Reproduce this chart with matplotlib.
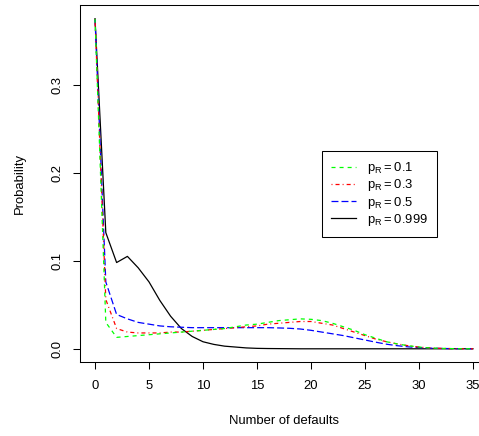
import matplotlib
matplotlib.use("Agg")
import matplotlib.pyplot as plt
import numpy as np

plt.rcParams['font.family'] = ['Liberation Sans', 'DejaVu Sans']
plt.rcParams['mathtext.fontset'] = 'custom'
plt.rcParams['mathtext.rm'] = 'Liberation Sans'
plt.rcParams['mathtext.default'] = 'regular'
plt.rcParams['lines.scale_dashes'] = False

# number of defaults 0..35
defaults = np.arange(36)

# p_R = 0.1
prob_01 = [0.375, 0.030, 0.013, 0.014, 0.015, 0.016, 0.017, 0.018, 0.019, 0.020,
           0.021, 0.022, 0.023, 0.025, 0.027, 0.028, 0.030, 0.032, 0.033, 0.034,
           0.0335, 0.032, 0.029, 0.025, 0.021, 0.016, 0.012, 0.008, 0.0055, 0.0035,
           0.002, 0.001, 0.0005, 0.0002, 0.0001, 0.0]
# p_R = 0.3
prob_03 = [0.375, 0.056, 0.023, 0.019, 0.018, 0.018, 0.018, 0.019, 0.019, 0.020,
           0.021, 0.022, 0.023, 0.024, 0.025, 0.026, 0.028, 0.029, 0.030, 0.031,
           0.031, 0.029, 0.027, 0.023, 0.019, 0.015, 0.011, 0.008, 0.0055, 0.0035,
           0.002, 0.001, 0.0005, 0.0002, 0.0001, 0.0]
# p_R = 0.5
prob_05 = [0.375, 0.076, 0.039, 0.034, 0.030, 0.028, 0.026, 0.025, 0.0245, 0.024,
           0.024, 0.024, 0.024, 0.024, 0.024, 0.024, 0.024, 0.0237, 0.0233, 0.0225,
           0.021, 0.019, 0.017, 0.015, 0.0125, 0.010, 0.0075, 0.0052, 0.0035, 0.0022,
           0.0014, 0.0008, 0.0004, 0.0002, 0.0001, 0.0]
# p_R = 0.999
prob_0999 = [0.375, 0.132, 0.098, 0.105, 0.092, 0.076, 0.055, 0.037, 0.023, 0.014,
             0.008, 0.005, 0.003, 0.002, 0.001, 0.0005, 0.0003, 0.0002, 0.0001, 0.0,
             0.0, 0.0, 0.0, 0.0, 0.0, 0.0, 0.0, 0.0, 0.0, 0.0,
             0.0, 0.0, 0.0, 0.0, 0.0, 0.0]

labels = [r'$p_R = 0.1$', r'$p_R = 0.3$', r'$p_R = 0.5$', r'$p_R = 0.999$']

fig = plt.figure(figsize=(4.79, 4.36), dpi=100)
# axes runs past the right edge like the original (cropped)
ax = fig.add_axes([80/479, 74/436, 408/479, 357/436])

lw = 0.9
l4, = ax.plot(defaults, prob_0999, color='black', lw=lw)
l3, = ax.plot(defaults, prob_05, color='#0000FF', lw=lw, dashes=(5.0, 2.2))
l2, = ax.plot(defaults, prob_03, color='#FF0000', lw=lw, dashes=(0.7, 2.2, 2.9, 2.2))
l1, = ax.plot(defaults, prob_01, color='#00FF00', lw=lw, dashes=(2.9, 2.9))

ax.set_xlim(-1.39, 36.39)
ax.set_ylim(-0.015, 0.3906)
ax.set_xticks([0, 5, 10, 15, 20, 25, 30, 35])
ax.set_yticks([0.0, 0.1, 0.2, 0.3])
ax.set_yticklabels(['0.0', '0.1', '0.2', '0.3'], rotation=90, va='center')

for s in ax.spines.values():
    s.set_linewidth(0.75)
ax.tick_params(direction='out', length=5, width=0.75, labelsize=9.4)
ax.tick_params(axis='y', pad=7)
ax.tick_params(axis='x', pad=8)

ax.set_xlabel('Number of defaults', fontsize=9.4, va='center')
ax.xaxis.set_label_coords(0.5, (362 - 421) / 357)
ax.set_ylabel('Probability', fontsize=9.4, va='center')
ax.yaxis.set_label_coords((20 - 80) / 408, 0.5)

leg = ax.legend([l1, l2, l3, l4], labels, loc='upper left',
                bbox_to_anchor=(322/479, 1 - 151/436), bbox_transform=fig.transFigure,
                borderaxespad=0, fancybox=False, framealpha=1, edgecolor='black',
                fontsize=9.4, handlelength=1.9, handletextpad=0.85,
                labelspacing=0.1, borderpad=0.7)
leg.get_frame().set_linewidth(0.75)

fig.savefig('out.png', dpi=100)
